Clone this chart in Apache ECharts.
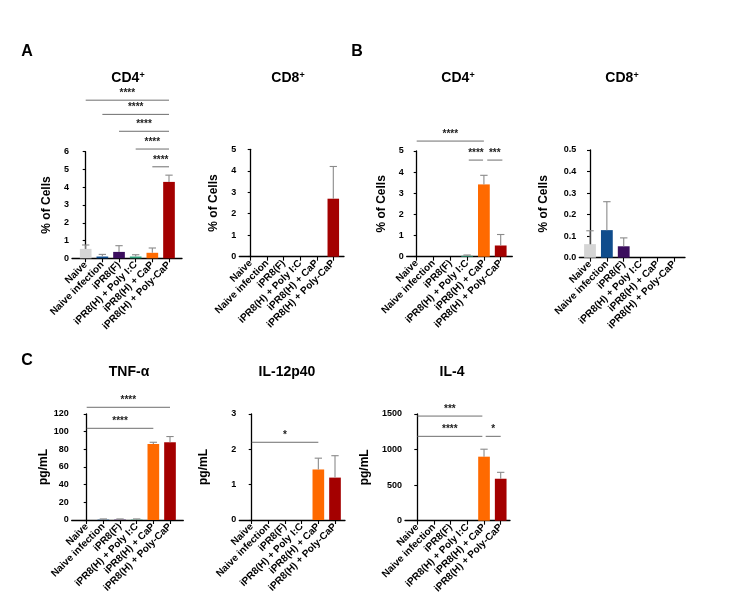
<!DOCTYPE html>
<html><head><meta charset="utf-8">
<script src="https://cdn.jsdelivr.net/npm/echarts@6/dist/echarts.min.js"></script>
<style>html,body{margin:0;background:#fff}#c{width:754px;height:613px}</style>
</head><body><div id="c"></div>
<script>
// ---------- data ----------
const categories = ['Naive', 'Naive infection', 'iPR8(F)', 'iPR8(H) + Poly I:C', 'iPR8(H) + CaP', 'iPR8(H) + Poly-CaP'];
const barColors = ['#d5d5d5', '#0f4c8c', '#3c0e5e', '#2f9f7a', '#ff6a00', '#a40000'];

const aCD4Mean = [0.53, 0.1, 0.36, 0.1, 0.31, 4.3];
const aCD4Err  = [0.22, 0.12, 0.35, 0.1, 0.27, 0.38];
const aCD4Sig  = [[0, 5, 8.9, '****'], [1, 5, 8.1, '****'], [2, 5, 7.15, '****'], [3, 5, 6.15, '****'], [4, 5, 5.15, '****']];

const aCD8Mean = [0, 0, 0, 0, 0, 2.7];
const aCD8Err  = [0, 0, 0, 0, 0, 1.5];
const aCD8Sig  = [];

const bCD4Mean = [0, 0, 0, 0.04, 3.42, 0.53];
const bCD4Err  = [0, 0, 0, 0.04, 0.43, 0.52];
const bCD4Sig  = [[0, 4, 5.47, '****'], [3.1, 3.95, 4.57, '****'], [4.2, 5.1, 4.57, '***']];

const bCD8Mean = [0.063, 0.128, 0.053, 0, 0, 0];
const bCD8Err  = [0.062, 0.132, 0.039, 0, 0, 0];
const bCD8Sig  = [];

const tnfMean = [0, 0.4, 0.4, 0.4, 86, 88];
const tnfErr  = [0, 0.8, 0.8, 0.8, 2, 6.5];
const tnfSig  = [[0, 5, 127.6, '****'], [0, 4, 103.8, '****']];

const il12Mean = [0, 0, 0, 0, 1.43, 1.2];
const il12Err  = [0, 0, 0, 0, 0.32, 0.62];
const il12Sig  = [[0, 4, 2.2, '*']];

const il4Mean = [0, 0, 0, 0, 900, 590];
const il4Err  = [0, 0, 0, 0, 105, 90];
const il4Sig  = [[0, 3.9, 1471, '***'], [0, 3.9, 1186, '****'], [4.1, 5, 1186, '*']];

const yMaxes = [6, 5, 5, 0.5, 120, 3, 1500];
const yIntervals = [1, 1, 1, 0.1, 20, 1, 500];

// ---------- layout ----------
const FONT = '"Liberation Sans", Arial, Helvetica, sans-serif';
const panels = [
  {mean: aCD4Mean, err: aCD4Err, sig: aCD4Sig, name: '% of Cells', title: 'CD4', sup: '+', axX: 72, axEnd: 182, yTop: 151.7, y0: 258.3, first: 85.7, last: 169, nameX: 47, titleX: 128, titleY: 78},
  {mean: aCD8Mean, err: aCD8Err, sig: aCD8Sig, name: '% of Cells', title: 'CD8', sup: '+', axX: 239.3, axEnd: 344, yTop: 149.3, y0: 256.7, first: 250.7, last: 333.3, nameX: 213.5, titleX: 288, titleY: 78},
  {mean: bCD4Mean, err: bCD4Err, sig: bCD4Sig, name: '% of Cells', title: 'CD4', sup: '+', axX: 406.7, axEnd: 512.3, yTop: 151, y0: 256.7, first: 416.7, last: 500.7, nameX: 381.5, titleX: 458, titleY: 78},
  {mean: bCD8Mean, err: bCD8Err, sig: bCD8Sig, name: '% of Cells', title: 'CD8', sup: '+', axX: 579.3, axEnd: 685, yTop: 150, y0: 257.7, first: 590, last: 674.3, nameX: 543.5, titleX: 622, titleY: 78, dec: 1},
  {mean: tnfMean, err: tnfErr, sig: tnfSig, name: 'pg/mL', title: 'TNF-α', axX: 71.7, axEnd: 183.3, yTop: 414, y0: 520, first: 86.7, last: 170, nameX: 44, titleX: 129, titleY: 372},
  {mean: il12Mean, err: il12Err, sig: il12Sig, name: 'pg/mL', title: 'IL-12p40', axX: 239.3, axEnd: 345, yTop: 414, y0: 520, first: 251.7, last: 335, nameX: 203.5, titleX: 287, titleY: 372},
  {mean: il4Mean, err: il4Err, sig: il4Sig, name: 'pg/mL', title: 'IL-4', axX: 405, axEnd: 510, yTop: 414, y0: 520.7, first: 417.3, last: 500.7, nameX: 365, titleX: 452, titleY: 372}
];

const grid = [], xAxis = [], yAxis = [], series = [], graphic = [];
const letters = [['A', 27, 52], ['B', 357, 52], ['C', 27, 361]];
letters.forEach(l => graphic.push({type: 'text', x: l[1], y: l[2], style: {text: l[0], font: 'bold 16px ' + FONT, fill: '#000', align: 'center', verticalAlign: 'middle'}}));

panels.forEach((p, k) => {
  const sp = (p.last - p.first) / 5;
  const xmin = -(p.first - p.axX) / sp;
  const xmax = 5 + (p.axEnd - p.last) / sp;
  grid.push({left: p.axX, top: p.yTop, width: p.axEnd - p.axX, height: p.y0 - p.yTop});
  xAxis.push({
    type: 'value', gridIndex: k, min: xmin, max: xmax,
    splitLine: {show: false},
    axisLine: {show: true, lineStyle: {color: '#000', width: 1.3}},
    axisTick: {show: true, length: 4, lineStyle: {color: '#000', width: 1.1}, customValues: [0, 1, 2, 3, 4, 5]},
    axisLabel: {show: true, rotate: 45, margin: 5, fontSize: 10, fontWeight: 'bold', fontFamily: FONT, color: '#000',
      customValues: [0, 1, 2, 3, 4, 5], formatter: v => categories[Math.round(v)]}
  });
  yAxis.push({
    type: 'value', gridIndex: k, min: 0, max: yMaxes[k], interval: yIntervals[k],
    splitLine: {show: false},
    axisLine: {show: true, lineStyle: {color: '#000', width: 1.3}},
    axisTick: {show: true, length: 3, lineStyle: {color: '#000', width: 1.1}},
    axisLabel: {margin: 3, fontSize: 9, fontWeight: 'bold', fontFamily: FONT, color: '#000',
      formatter: v => p.dec ? v.toFixed(1) : String(v)}
  });
  series.push({
    type: 'bar', xAxisIndex: k, yAxisIndex: k, barWidth: sp * 0.7, silent: true,
    data: p.mean.map((m, i) => ({value: [i, m], itemStyle: {color: barColors[i]}}))
  });
  series.push({
    type: 'custom', xAxisIndex: k, yAxisIndex: k, clip: false, silent: true, z: 3,
    data: p.mean.map((m, i) => [i, m, p.err[i]]),
    renderItem: (params, api) => {
      const x = api.value(0), m = api.value(1), e = api.value(2);
      if (!(e > 0)) return {type: 'group', children: []};
      const a = api.coord([x, m]), b = api.coord([x, m + e]);
      const cw = sp * 0.22;
      const st = {stroke: '#8a8a8a', lineWidth: 1.1};
      return {type: 'group', children: [
        {type: 'line', shape: {x1: a[0], y1: a[1], x2: b[0], y2: b[1]}, style: st},
        {type: 'line', shape: {x1: b[0] - cw, y1: b[1], x2: b[0] + cw, y2: b[1]}, style: st}
      ]};
    }
  });
  if (p.sig.length) {
    series.push({
      type: 'custom', xAxisIndex: k, yAxisIndex: k, clip: false, silent: true, z: 4,
      encode: {x: [0, 1], y: 2},
      data: p.sig.map(s => [s[0], s[1], s[2]]),
      renderItem: (params, api) => {
        const a = api.coord([api.value(0), api.value(2)]);
        const b = api.coord([api.value(1), api.value(2)]);
        const label = p.sig[params.dataIndex][3];
        return {type: 'group', children: [
          {type: 'line', shape: {x1: a[0], y1: a[1], x2: b[0], y2: b[1]}, style: {stroke: '#6e6e6e', lineWidth: 1}},
          {type: 'text', x: (a[0] + b[0]) / 2, y: a[1] - 2, style: {text: label, font: 'bold 10px ' + FONT, fill: '#222', align: 'center', verticalAlign: 'bottom'}}
        ]};
      }
    });
  }
  graphic.push({type: 'text', x: p.nameX, y: (p.yTop + p.y0) / 2, rotation: Math.PI / 2,
    style: {text: p.name, font: 'bold 12px ' + FONT, fill: '#000', align: 'center', verticalAlign: 'middle'}});
  graphic.push({type: 'text', x: p.titleX, y: p.titleY,
    style: {text: p.sup ? '{a|' + p.title + '}{b|' + p.sup + '}' : '{a|' + p.title + '}', align: 'center', verticalAlign: 'middle',
      rich: {a: {fontFamily: FONT, fontSize: 14, fontWeight: 'bold', fill: '#000', color: '#000'},
             b: {fontFamily: FONT, fontSize: 9, fontWeight: 'bold', fill: '#000', color: '#000', verticalAlign: 'top', lineHeight: 9}}}});
});

const chart = echarts.init(document.getElementById('c'), null, {renderer: 'canvas'});
chart.setOption({backgroundColor: '#fff', animation: false, grid, xAxis, yAxis, series, graphic});
</script></body></html>
